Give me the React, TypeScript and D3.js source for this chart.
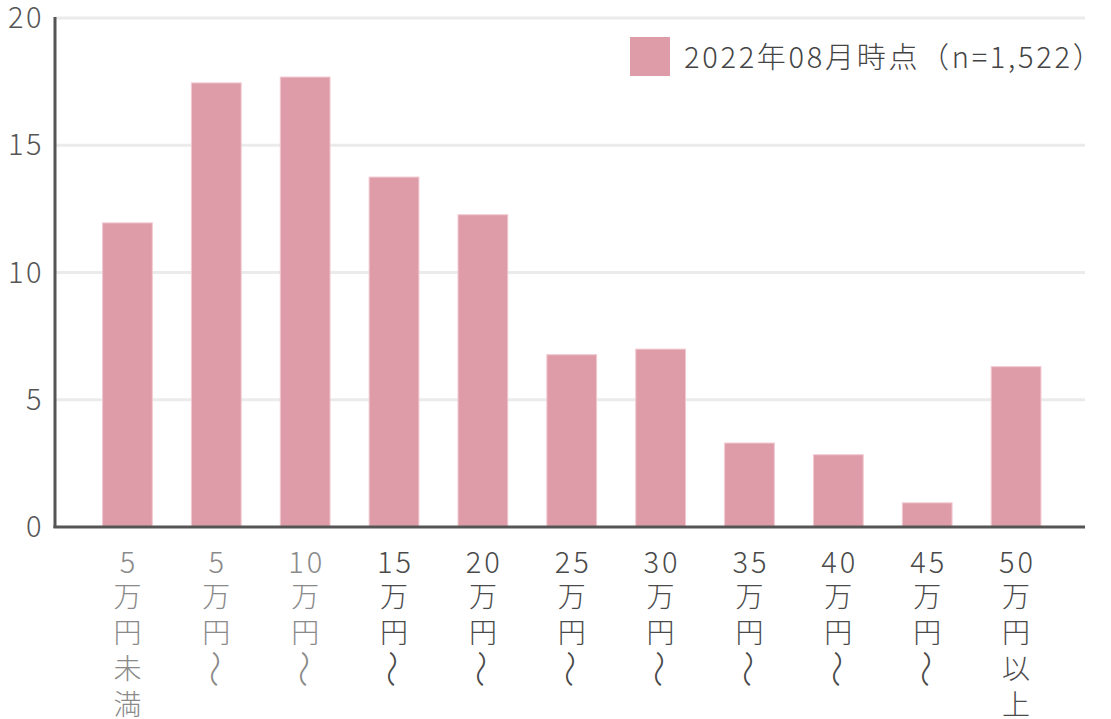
import * as d3 from "d3"

const categories = ["5万円未満", "5万円〜", "10万円〜", "15万円〜", "20万円〜", "25万円〜", "30万円〜", "35万円〜", "40万円〜", "45万円〜", "50万円以上"]
// each category label split into its vertical lines
const labelLines = [
  ["5", "万", "円", "未", "満"],
  ["5", "万", "円", "〜"],
  ["10", "万", "円", "〜"],
  ["15", "万", "円", "〜"],
  ["20", "万", "円", "〜"],
  ["25", "万", "円", "〜"],
  ["30", "万", "円", "〜"],
  ["35", "万", "円", "〜"],
  ["40", "万", "円", "〜"],
  ["45", "万", "円", "〜"],
  ["50", "万", "円", "以", "上"],
]
const values = [11.95, 17.45, 17.68, 13.75, 12.27, 6.77, 6.99, 3.3, 2.84, 0.95, 6.3]
const yTicks = [0, 5, 10, 15, 20]
const seriesName = "2022年08月時点（n=1,522）"

const W = 1111
const H = 719
const FONT = "'Noto Sans CJK JP', 'Noto Sans', sans-serif"

export default function App() {
  const axisX = 55
  const axisRight = 1085
  const x = d3.scaleBand<string>()
    .domain(categories)
    .range([83, 1060.5])
    .paddingInner(0.44)
    .paddingOuter(0.22)
  const y = d3.scaleLinear().domain([0, 20]).range([527, 18])

  const lineY = (j: number) => (j === 0 ? 573 : 607 + (j - 1) * 36)

  return (
    <svg width={W} height={H} style={{ position: "absolute", left: 0, top: 0, background: "#fff" }} fontFamily={FONT}>
      {/* grid */}
      {yTicks.filter((t) => t > 0).map((t) => (
        <line key={t} x1={axisX} x2={axisRight} y1={y(t)} y2={y(t)} stroke="#ebebeb" strokeWidth={3} />
      ))}
      {/* y tick labels */}
      {yTicks.map((t) => (
        <text key={t} x={44} y={y(t) + 10} textAnchor="end" fontSize={29} fontWeight={300}
          letterSpacing={2.5} fill="#555">{t}</text>
      ))}
      {/* bars */}
      {values.map((v, i) => (
        <rect
          key={i}
          x={x(categories[i])}
          y={y(v)}
          width={x.bandwidth()}
          height={y(0) - y(v)}
          fill="#de9ca9"
          stroke="#f2c9d1"
          strokeWidth={1}
        />
      ))}
      {/* axes */}
      <line x1={axisX} x2={axisX} y1={17} y2={528} stroke="#555" strokeWidth={3} />
      <line x1={axisX - 1.5} x2={axisRight} y1={527} y2={527} stroke="#555" strokeWidth={3} />
      {/* x labels */}
      {labelLines.map((lines, i) => {
        const cx = (x(categories[i]) ?? 0) + x.bandwidth() / 2
        const color = i < 3 ? "#8a8a8a" : "#4a4a4a"
        return (
          <g key={i} fill={color} fontSize={28} fontWeight={300}>
            {lines.map((s, j) => {
              const by = lineY(j)
              if (s === "〜") {
                return (
                  <text key={j} x={0} y={0} textAnchor="middle" dominantBaseline="central"
                    transform={`translate(${cx},${by - 10}) rotate(90) scale(1.35,1.2)`}>{s}</text>
                )
              }
              if (j === 0) {
                return (
                  <text key={j} x={cx + 1.5} y={by} textAnchor="middle" fontSize={29} letterSpacing={3}>{s}</text>
                )
              }
              return <text key={j} x={cx} y={by} textAnchor="middle">{s}</text>
            })}
          </g>
        )
      })}
      {/* legend */}
      <rect x={630} y={37} width={40} height={39} fill="#de9ca9" />
      <text x={684} y={68} fontSize={29} fontWeight={300} letterSpacing={2.7} fill="#444">{seriesName}</text>
    </svg>
  )
}
